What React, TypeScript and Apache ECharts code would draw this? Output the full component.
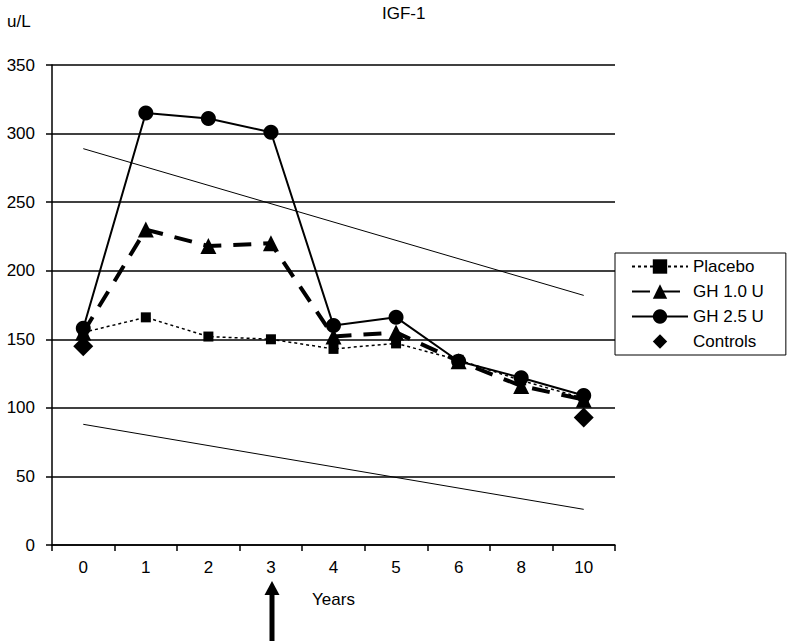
import React, { useEffect, useRef } from "react";
import * as echarts from "echarts";

const years = ["0", "1", "2", "3", "4", "5", "6", "8", "10"];
const placebo = [155, 166, 152, 150, 143, 147, 135, 120, 107];
const gh10 = [155, 230, 218, 220, 152, 155, 134, 116, 106];
const gh25 = [158, 315, 311, 301, 160, 166, 134, 122, 109];
const controls: (number | null)[] = [145, null, null, null, null, null, null, null, 93];
const upperRef: (number | null)[] = [289, null, null, null, null, null, null, null, 182];
const lowerRef: (number | null)[] = [88, null, null, null, null, null, null, null, 26];

const FONT = "Liberation Sans, Arial, sans-serif";

export default function App() {
  const ref = useRef<HTMLDivElement>(null);
  useEffect(() => {
    if (!ref.current) return;
    const chart = echarts.init(ref.current, null, { renderer: "svg" });
    chart.setOption({
      animation: false,
      backgroundColor: "#fff",
      textStyle: { fontFamily: FONT, color: "#000" },
      title: [
        { text: "IGF-1", left: 377, top: 0, textStyle: { fontSize: 17, fontWeight: "normal", color: "#000", fontFamily: FONT } },
        { text: "u/L", left: 2, top: 8, textStyle: { fontSize: 17, fontWeight: "normal", color: "#000", fontFamily: FONT } },
      ],
      grid: { left: 52, right: 173, top: 65, bottom: 96 },
      legend: {
        orient: "vertical",
        left: 615,
        top: 253,
        borderColor: "#000",
        borderWidth: 1,
        padding: [5, 22, 5, 16],
        itemGap: 8,
        itemWidth: 56,
        itemHeight: 18,
        textStyle: { fontSize: 17, color: "#000", fontFamily: FONT },
        data: ["Placebo", "GH 1.0 U", "GH 2.5 U", "Controls"],
      },
      xAxis: {
        type: "category",
        data: years,
        boundaryGap: true,
        name: "Years",
        nameLocation: "middle",
        nameGap: 46,
        nameTextStyle: { fontSize: 17, color: "#000", fontFamily: FONT },
        axisLine: { lineStyle: { color: "#000", width: 1.5 } },
        axisTick: { show: true, length: 6, lineStyle: { color: "#000", width: 1.5 } },
        axisLabel: { fontSize: 17, color: "#000", margin: 14, fontFamily: FONT },
      },
      yAxis: {
        type: "value",
        min: 0,
        max: 350,
        interval: 50,
        axisLine: { show: true, lineStyle: { color: "#000", width: 1.5 } },
        axisTick: { show: true, length: 6, lineStyle: { color: "#000", width: 1.5 } },
        axisLabel: { fontSize: 17, color: "#000", margin: 17, fontFamily: FONT },
        splitLine: { lineStyle: { color: "#000", width: 1.5 } },
      },
      graphic: [
        { type: "line", shape: { x1: 272, y1: 641, x2: 272, y2: 592 }, style: { stroke: "#000", lineWidth: 5 } },
        { type: "polygon", shape: { points: [[272, 581], [264.5, 595], [279.5, 595]] }, style: { fill: "#000" } },
      ],
      series: [
        {
          name: "upperRef",
          type: "line",
          data: upperRef,
          connectNulls: true,
          showSymbol: false,
          symbol: "none",
          lineStyle: { color: "#000", width: 1 },
          silent: true,
          z: 1,
        },
        {
          name: "lowerRef",
          type: "line",
          data: lowerRef,
          connectNulls: true,
          showSymbol: false,
          symbol: "none",
          lineStyle: { color: "#000", width: 1 },
          silent: true,
          z: 1,
        },
        {
          name: "Placebo",
          type: "line",
          data: placebo,
          symbol: "rect",
          symbolSize: 10,
          itemStyle: { color: "#000" },
          lineStyle: { color: "#000", width: 1.5, type: [3, 3] },
          z: 3,
        },
        {
          name: "GH 1.0 U",
          type: "line",
          data: gh10,
          symbol: "triangle",
          symbolSize: 16,
          itemStyle: { color: "#000" },
          lineStyle: { color: "#000", width: 4, type: [18, 12] },
          z: 4,
        },
        {
          name: "GH 2.5 U",
          type: "line",
          data: gh25,
          symbol: "circle",
          symbolSize: 15,
          itemStyle: { color: "#000" },
          lineStyle: { color: "#000", width: 2 },
          z: 5,
        },
        {
          name: "Controls",
          type: "line",
          data: controls,
          connectNulls: false,
          showSymbol: true,
          symbol: "diamond",
          symbolSize: 20,
          itemStyle: { color: "#000", opacity: 1 },
          lineStyle: { color: "#000", width: 0, opacity: 0 },
          z: 6,
        },
      ],
    });
    return () => chart.dispose();
  }, []);
  return <div ref={ref} style={{ width: 788, height: 641, position: "absolute", left: 0, top: 0 }} />;
}
